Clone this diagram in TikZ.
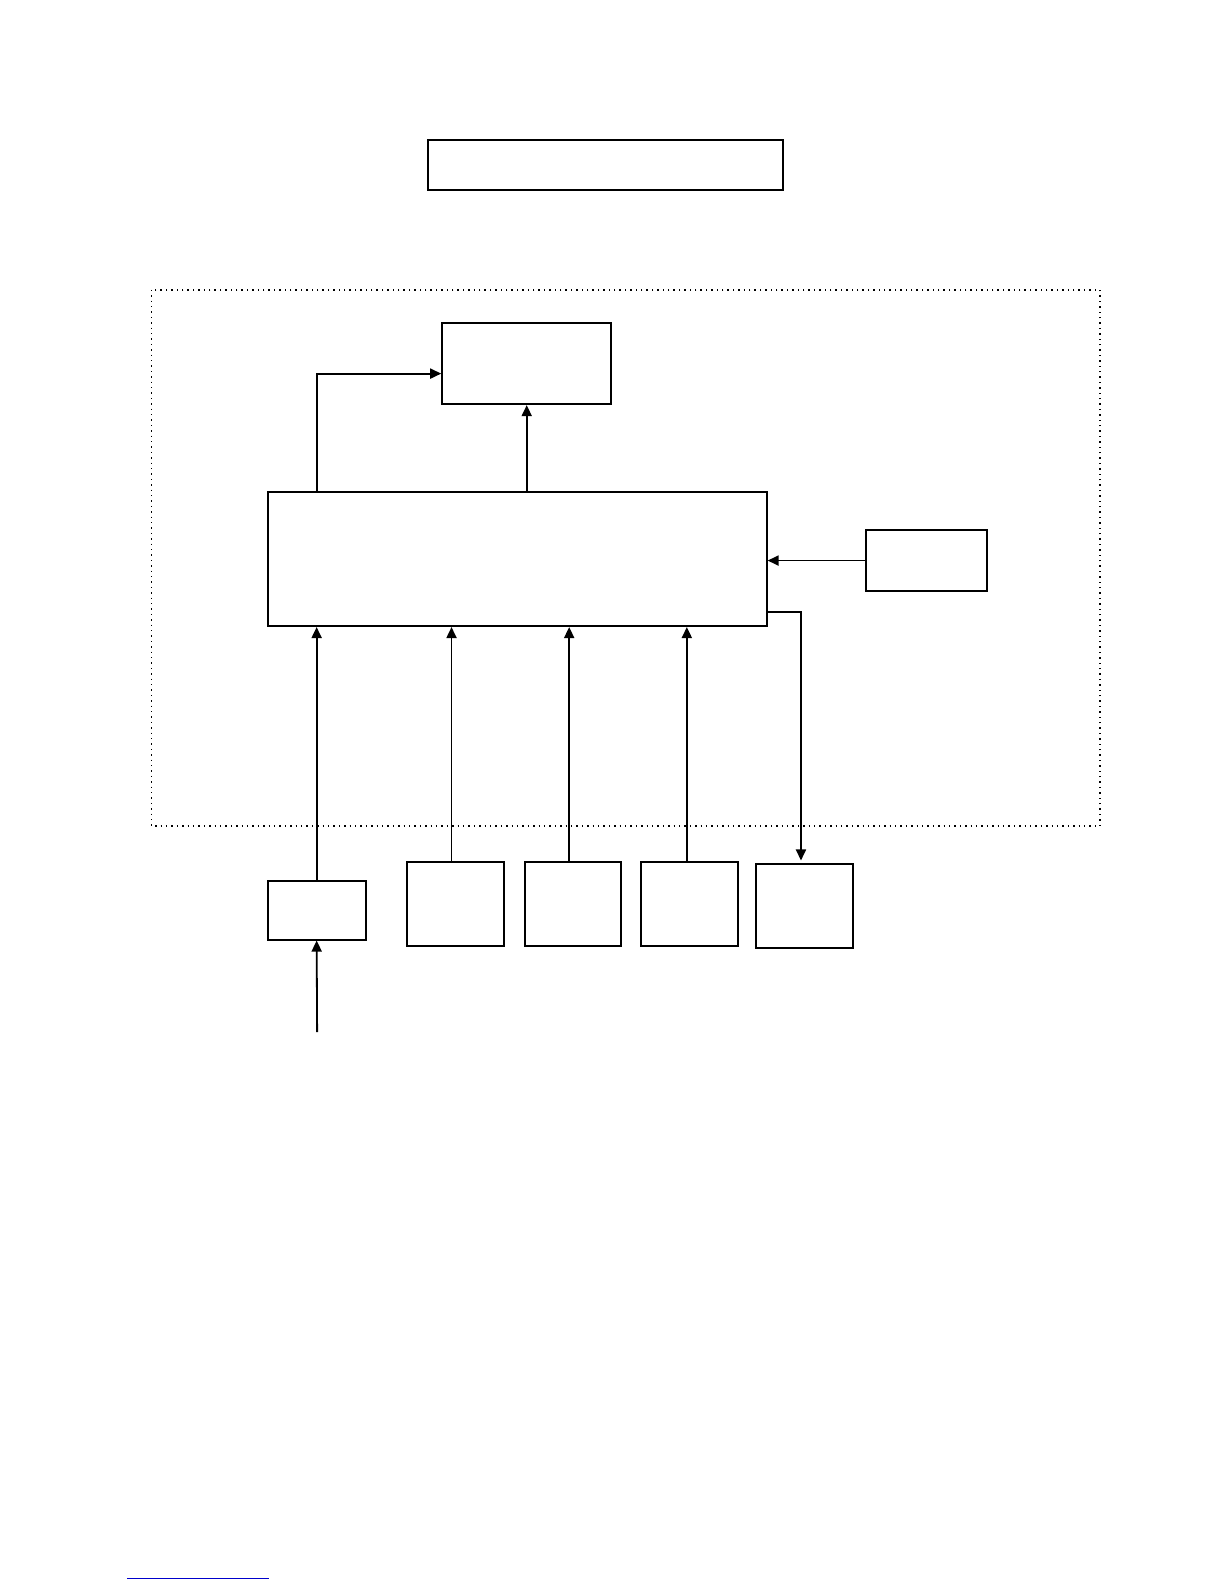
\documentclass[tikz,border=0pt]{standalone}
\usetikzlibrary{arrows.meta}
\definecolor{linkline}{rgb}{0.0, 0.0, 0.8}

\begin{document}
\begin{tikzpicture}[x=0.505pt,y=-0.505pt,
    blk/.style={draw,line width=1pt,inner sep=0pt},
    flow/.style={-{Triangle[length=5.5pt,width=5pt]},line width=0.9pt}]
  \useasboundingbox (0pt,0pt) rectangle (612pt,-792pt);
  \draw[dotted,line width=0.7pt] (150,287) rectangle (1089,818);
  \node[blk,minimum width=177.5pt,minimum height=25pt] (title) at (599,163) {};
  \node[blk,minimum width=84.5pt,minimum height=40.5pt] (out) at (521.5,360) {};
  \node[blk,minimum width=249.5pt,minimum height=67pt] (main) at (512,553.5) {};
  \node[blk,minimum width=60.5pt,minimum height=30.5pt] (side) at (917,555) {};
  \node[blk,minimum width=49pt,minimum height=29.5pt] (conv) at (313.5,901) {};
  \node[blk,minimum width=48.5pt,minimum height=42pt] (b1) at (451,895.5) {};
  \node[blk,minimum width=48pt,minimum height=42pt] (b2) at (567.5,895.5) {};
  \node[blk,minimum width=48.5pt,minimum height=42pt] (b3) at (683,895.5) {};
  \node[blk,minimum width=48.5pt,minimum height=42pt] (b4) at (797,897.5) {};
    \coordinate (in) at (314,1022);
    \draw[flow] (main.north -| conv.north) |- ([yshift=-5pt]out.west);
    \draw[flow] (main.north -| out.south) -- (out.south);
    \draw[flow] (side.west) -- (side.west -| main.east);
    \draw[flow] ([yshift=7.5pt]main.south east) -| ([xshift=-2pt,yshift=1.5pt]b4.north);
    \draw[flow] (conv.north) -- (conv.north |- main.south);
    \draw[flow] ([xshift=-2pt]b1.north) -- ([xshift=-2pt]b1.north |- main.south);
    \draw[flow] ([xshift=-2pt]b2.north) -- ([xshift=-2pt]b2.north |- main.south);
    \draw[flow] ([xshift=-1.5pt]b3.north) -- ([xshift=-1.5pt]b3.north |- main.south);
    \draw[flow] (in) -- (conv.south);
    \draw[linkline,line width=0.8pt] (126,1563) -- (266,1563);
\end{tikzpicture}
\end{document}
